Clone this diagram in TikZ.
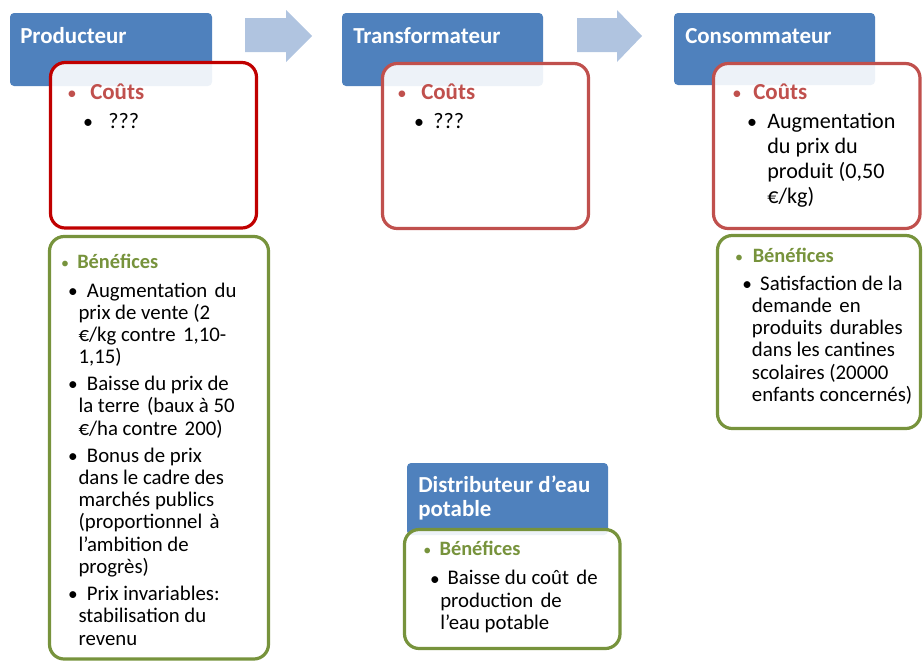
\documentclass[tikz,border=0pt]{standalone}
\usepackage{fontspec}
\setmainfont{Carlito}
\definecolor{hdrblue}{HTML}{4F81BD}
\definecolor{arrblue}{HTML}{B0C4E0}
\definecolor{deepred}{HTML}{C00000}
\definecolor{softred}{HTML}{C0504D}
\definecolor{olivegreen}{HTML}{77933C}
\tikzset{
  hdr/.style={fill=hdrblue, rounded corners=3pt},
  flowarrow/.style={fill=arrblue},
  costbox/.style={draw=softred, line width=2.4pt, rounded corners=11pt, fill=white, fill opacity=0.9, draw opacity=1},
  gainbox/.style={draw=olivegreen, line width=2.4pt, rounded corners=11pt, fill=white, fill opacity=0.9, draw opacity=1},
  ttl/.style={anchor=base west, inner sep=0pt, text=white, align=left, font=\fontsize{17.2}{17.6}\selectfont\bfseries},
  costhead/.style={anchor=base west, inner sep=0pt, text=softred, font=\fontsize{17.2}{18.75}\selectfont\bfseries},
  costtxt/.style={anchor=base west, inner sep=0pt, align=left, font=\fontsize{16.6}{18.75}\selectfont},
  gainhead/.style={anchor=base west, inner sep=0pt, text=olivegreen, font=\fontsize{15.3}{16.7}\selectfont\bfseries},
  gaintxt/.style={anchor=base west, inner sep=0pt, align=left, font=\fontsize{15.6}{16.7}\selectfont},
  rbul/.style={anchor=base, inner sep=0pt, text=softred, font=\fontsize{14}{16}\selectfont},
  gbul/.style={anchor=base, inner sep=0pt, text=olivegreen, font=\fontsize{12}{14}\selectfont},
  kbul/.style={anchor=base, inner sep=0pt, font=\fontsize{14.5}{16}\selectfont},
  kbulbig/.style={anchor=base, inner sep=0pt, font=\fontsize{15}{16}\selectfont}
}
\newcommand{\xsp}{\hspace{2pt}}
\begin{document}
\begin{tikzpicture}[x=0.75pt,y=-0.75pt]
\useasboundingbox (0,0) rectangle (923,661);
% header boxes
\fill[hdr] (10,13) rectangle (212,86);
\fill[hdr] (342,13) rectangle (543,86);
\fill[hdr] (674,13) rectangle (875,85);
\fill[hdr] (407,463) rectangle (608,535);
% arrows
\fill[flowarrow] (245,18) -- (286,18) -- (286,10) -- (312,36) -- (286,62) -- (286,52) -- (245,52) -- cycle;
\fill[flowarrow] (577,18) -- (617,18) -- (617,10) -- (642,36) -- (617,62) -- (617,52) -- (577,52) -- cycle;
% cost boxes
\path[costbox, draw=deepred] (50.5,62.5) rectangle (256.5,228);
\path[costbox] (382.5,63.5) rectangle (588.5,228.5);
\path[costbox] (713.5,63.5) rectangle (920,228.5);
% benefit boxes
\path[gainbox] (49.5,236.5) rectangle (268.5,659);
\path[gainbox] (717.5,235.5) rectangle (920.5,428.5);
\path[gainbox] (404.5,529.5) rectangle (620,648.5);
% titles (multi-line nodes are placed by the baseline of their last line)
\node[ttl] (tprod) at (20,43) {Producteur};
\node[ttl] (ttrans) at (353,43) {Transformateur};
\node[ttl] (tcons) at (685,43) {Consommateur};
\node[ttl] (tdist) at (418,516) {Distributeur d’eau\\potable};
% producteur costs
\node[rbul] (pcb) at (72,99) {\textbullet};
\node[costhead] (pch) at (90,99) {Coûts};
\node[kbulbig] (pc1b) at (88,128) {\textbullet};
\node[costtxt] (pc1) at (108,128) {???};
% transformateur costs
\node[rbul] (tcb) at (402,99) {\textbullet};
\node[costhead] (tch) at (421,99) {Coûts};
\node[kbulbig] (tc1b) at (419,128) {\textbullet};
\node[costtxt] (tc1) at (433,128) {???};
% consommateur costs
\node[rbul] (ccb) at (737,99) {\textbullet};
\node[costhead] (cch) at (753,99) {Coûts};
\node[kbulbig] (cc1b) at (752,128) {\textbullet};
\node[costtxt] (cc1) at (767,203) {Augmentation\\du prix du\\produit (0,50\\€/kg)};
% producteur benefits
\node[gbul] (pgb) at (65,268) {\textbullet};
\node[gainhead] (pgh) at (77,268) {Bénéfices};
\node[kbul] (pg1b) at (73,297) {\textbullet};
\node[gaintxt] (pg1) at (78.3,363.8) {\hspace*{6.3pt}Augmentation\xsp\ du\\prix de vente (2\\€/kg contre\xsp\ 1,10-\\1,15)};
\node[kbul] (pg2b) at (73,390.5) {\textbullet};
\node[gaintxt] (pg2) at (78.3,435) {\hspace*{6.3pt}Baisse du prix de\\la terre\xsp\ (baux à 50\\€/ha contre\xsp\ 200)};
\node[kbul] (pg3b) at (73,462) {\textbullet};
\node[gaintxt] (pg3) at (78.3,573.4) {\hspace*{6.3pt}Bonus de prix\\dans le cadre des\\marchés publics\\(proportionnel\xsp\ à\\l’ambition de\\progrès)};
\node[kbul] (pg4b) at (73,600.5) {\textbullet};
\node[gaintxt] (pg4) at (78.3,645) {\hspace*{6.3pt}Prix invariables:\\stabilisation du\\revenu};
% consommateur benefits
\node[gbul] (cgb) at (739,262) {\textbullet};
\node[gainhead] (cgh) at (752.5,262) {Bénéfices};
\node[kbul] (cg1b) at (747.3,290) {\textbullet};
\node[gaintxt] (cg1) at (751.7,401.4) {\hspace*{6.2pt}Satisfaction de la\\demande\xsp\ en\\produits\xsp\ durables\\dans les cantines\\scolaires (20000\\enfants concernés)};
% distributeur benefits
\node[gbul] (dgb) at (427.3,555.5) {\textbullet};
\node[gainhead] (dgh) at (439.3,555.5) {Bénéfices};
\node[kbul] (dg1b) at (435,585) {\textbullet};
\node[gaintxt] (dg1) at (440,629.5) {\hspace*{5.5pt}Baisse du coût\xsp\ de\\production\xsp\ de\\l’eau potable};
\end{tikzpicture}
\end{document}
